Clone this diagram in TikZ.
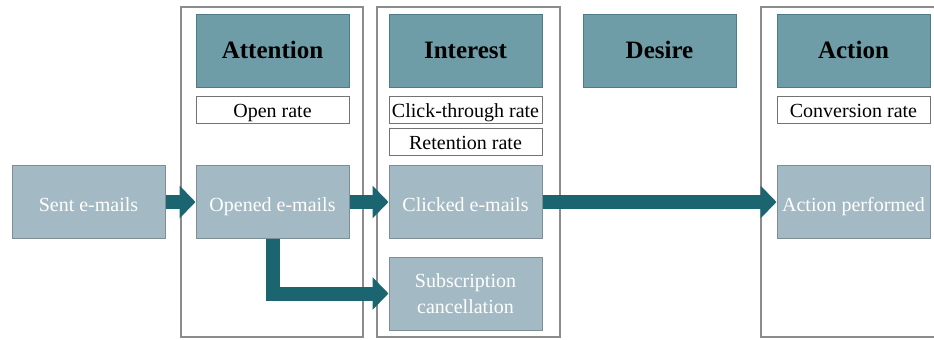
\documentclass[tikz,border=0pt]{standalone}
\usepackage{fontspec}
\setmainfont{Liberation Serif}
\usetikzlibrary{arrows.meta}

\definecolor{headfill}{HTML}{6E9DA8}
\definecolor{headline}{HTML}{4E7C86}
\definecolor{stagefill}{HTML}{A3BAC4}
\definecolor{stageline}{HTML}{7C8E96}
\definecolor{flow}{HTML}{1B6570}

\begin{document}
\begin{tikzpicture}[x=0.5pt, y=-0.5pt,
  header/.style = {shape=rectangle, draw=headline, fill=headfill,
    line width=0.5pt, minimum width=76.5pt, minimum height=36.5pt,
    text height=8.8pt, text depth=0.5pt,
    font=\fontsize{12.5}{15}\selectfont\bfseries},
  rate/.style = {shape=rectangle, draw=black!55, fill=white,
    line width=0.5pt, minimum width=76.5pt, minimum height=13.5pt,
    inner sep=0pt, text height=8pt, text depth=0.2pt,
    font=\fontsize{10}{12}\selectfont},
  stagebox/.style = {shape=rectangle, draw=stageline, fill=stagefill,
    line width=0.5pt, minimum width=76.5pt, minimum height=36.5pt,
    align=center, text=white, inner sep=1pt,
    font=\fontsize{10}{13}\selectfont},
  stage/.style = {stagebox, text height=9.5pt, text depth=0pt},
  frame/.style = {draw=black!45, line width=0.6pt},
  flowarrow/.style = {draw=flow, line width=7pt,
    -{Triangle[length=8pt, width=16pt]}}]
    \useasboundingbox (0,0) rectangle (934,339);
    % column frames
    \draw[frame] (181,7) rectangle (363,337);
    \draw[frame] (377,7) rectangle (560,337);
    \draw[frame] (761,7) rectangle (950,337);
    % stages of the funnel
    \node[header] (attention) at (272.5,50.5) {Attention};
    \node[header] (interest) at (465.5,50.5) {Interest};
    \node[header] (desire) at (659.5,50.5) {Desire};
    \node[header] (action) at (853.5,50.5) {Action};
    % measures
    \node[rate] (openrate) at (272.5,109.5) {Open rate};
    \node[rate] (ctr) at (465.5,109.5) {Click-through rate};
    \node[rate] (retention) at (465.5,141.5) {Retention rate};
    \node[rate] (conversion) at (853.5,109.5) {Conversion rate};
    % e-mail flow
    \node[stage] (sent) at (88.5,202) {Sent e-mails};
    \node[stage] (opened) at (272.5,202) {Opened e-mails};
    \node[stage] (clicked) at (465.5,202) {Clicked e-mails};
    \node[stagebox] (cancel) at (465.5,293.5) {Subscription\\ cancellation};
    \node[stage] (performed) at (853.5,202) {Action performed};
    \draw[flowarrow] (sent) -- (opened);
    \draw[flowarrow] (opened) -- (clicked);
    \draw[flowarrow] (clicked) -- (performed);
    \draw[flowarrow] (opened.south) |- (cancel.west);
\end{tikzpicture}
\end{document}
